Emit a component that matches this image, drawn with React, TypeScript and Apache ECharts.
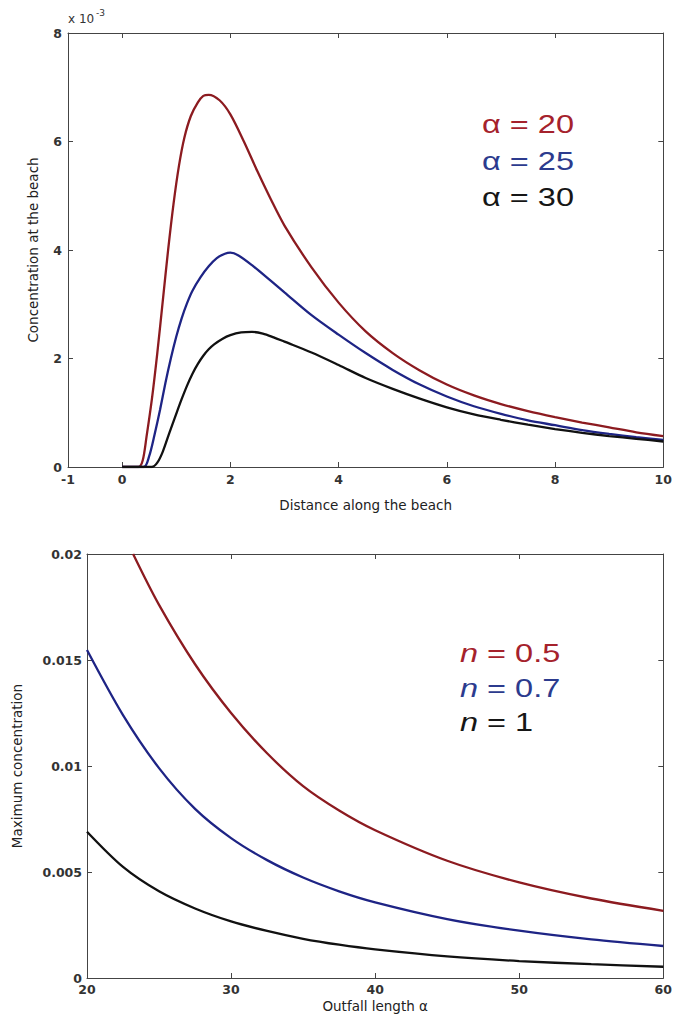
import React, { useEffect, useRef } from "react";
import * as echarts from "echarts";

// Top panel: concentration at the beach (x 10^-3) vs distance along the beach
const redTopX = [0, 0.3, 0.38, 0.45, 0.55, 0.65, 0.75, 0.85, 0.95, 1.05, 1.15, 1.27, 1.4, 1.5, 1.6, 1.8, 2.0, 2.25, 2.5, 2.75, 3.0, 3.5, 4.0, 4.5, 5.0, 5.5, 6.0, 6.5, 7.0, 7.5, 8.0, 8.5, 9.0, 9.5, 10];
const redTopY = [0, 0, 0.12, 0.55, 1.25, 2.1, 3.05, 4.0, 4.85, 5.55, 6.07, 6.47, 6.72, 6.84, 6.86, 6.76, 6.5, 6.0, 5.45, 4.93, 4.45, 3.68, 3.03, 2.5, 2.1, 1.78, 1.52, 1.32, 1.16, 1.03, 0.92, 0.82, 0.73, 0.64, 0.57];
const blueTopX = [0, 0.4, 0.5, 0.6, 0.7, 0.8, 0.9, 1.0, 1.1, 1.2, 1.3, 1.45, 1.6, 1.75, 1.9, 2.0, 2.15, 2.4, 2.75, 3.0, 3.5, 4.0, 4.5, 5.0, 5.5, 6.0, 6.5, 7.0, 7.5, 8.0, 8.5, 9.0, 9.5, 10];
const blueTopY = [0, 0, 0.2, 0.6, 1.05, 1.55, 2.0, 2.4, 2.74, 3.02, 3.25, 3.5, 3.7, 3.85, 3.93, 3.95, 3.9, 3.72, 3.43, 3.22, 2.8, 2.44, 2.1, 1.79, 1.52, 1.3, 1.12, 0.98, 0.86, 0.77, 0.68, 0.61, 0.55, 0.5];
const blackTopX = [0, 0.55, 0.65, 0.75, 0.87, 1.0, 1.1, 1.2, 1.3, 1.4, 1.5, 1.6, 1.7, 1.85, 2.0, 2.2, 2.4, 2.6, 2.8, 3.0, 3.5, 4.0, 4.5, 5.0, 5.5, 6.0, 6.5, 7.0, 7.5, 8.0, 8.5, 9.0, 9.5, 10];
const blackTopY = [0, 0, 0.08, 0.28, 0.62, 0.98, 1.25, 1.5, 1.72, 1.9, 2.05, 2.17, 2.26, 2.36, 2.43, 2.48, 2.49, 2.46, 2.39, 2.31, 2.11, 1.88, 1.64, 1.44, 1.26, 1.1, 0.97, 0.87, 0.78, 0.7, 0.63, 0.57, 0.52, 0.47];
const topXLabels = [-1, 0, 2, 4, 6, 8, 10];
const topXTicks = [0, 2, 4, 6, 8];
const topLegend = ["\u03b1 = 20", "\u03b1 = 25", "\u03b1 = 30"];

// Bottom panel: maximum concentration vs outfall length
const redBotX = [23.2, 25, 27.5, 30, 32.5, 35, 37.5, 40, 45, 50, 55, 60];
const redBotY = [0.02, 0.0176, 0.0148, 0.0125, 0.0106, 0.00905, 0.0079, 0.00697, 0.00553, 0.00451, 0.00375, 0.00317];
const blueBotX = [20, 22.5, 25, 27.5, 30, 32.5, 35, 37.5, 40, 45, 50, 55, 60];
const blueBotY = [0.01547, 0.0124, 0.0099, 0.00798, 0.0066, 0.00556, 0.00474, 0.00409, 0.00357, 0.00278, 0.00223, 0.00182, 0.00151];
const blackBotX = [20, 22.5, 25, 27.5, 30, 32.5, 35, 37.5, 40, 45, 50, 55, 60];
const blackBotY = [0.0069, 0.00524, 0.00409, 0.00328, 0.00267, 0.00222, 0.00185, 0.00157, 0.00135, 0.00102, 0.0008, 0.00065, 0.00053];
const botLegendValues = ["0.5", "0.7", "1"];

const RED = "#8c1b20";
const BLUE = "#1e2485";
const BLACK = "#111111";
const RED_T = "#a5222c";
const BLUE_T = "#2c3b8e";
const BLACK_T = "#161616";
const AX = "#444444";
const FONT = "'Liberation Sans', Arial, sans-serif";
const TICKFONT = "'DejaVu Sans', sans-serif";

const zip = (xs: number[], ys: number[]) => xs.map((x, i) => [x, ys[i]]);

const axisCommon = {
  type: "value" as const,
  axisLine: { show: true, onZero: false, lineStyle: { color: AX, width: 1 } },
  splitLine: { show: false },
};

export default function App() {
  const ref = useRef<HTMLDivElement>(null);
  useEffect(() => {
    if (!ref.current) return;
    const chart = echarts.init(ref.current, undefined, { renderer: "svg" });
    const lbl = { fontSize: 12.5, fontWeight: "bold" as const, color: "#333", fontFamily: TICKFONT };
    const nameStyle = { fontSize: 13.5, color: "#222", fontFamily: TICKFONT };
    const line = (name: string, data: number[][], color: string, xi: number, yi: number) => ({
      type: "line",
      name,
      data,
      xAxisIndex: xi,
      yAxisIndex: yi,
      showSymbol: false,
      symbol: "none",
      smooth: 0.3,
      clip: true,
      lineStyle: { color, width: 2.3 },
      itemStyle: { color },
    });
    const legendText = (text: string, y: number, fill: string, rich?: any) => ({
      type: "text",
      x: rich ? 460 : 482,
      y,
      scaleX: 1.3,
      style: {
        text,
        fill,
        fontSize: 25,
        fontFamily: FONT,
        textAlign: "left",
        textVerticalAlign: "middle",
        rich,
      },
    });
    const italic = (fill: string) => ({
      it: { fontStyle: "italic", fontSize: 25, fontFamily: FONT, fill },
    });
    const tickStyle = { show: true, inside: true, length: 5, lineStyle: { color: AX } };
    chart.setOption({
      animation: false,
      backgroundColor: "#ffffff",
      grid: [
        { left: 68, top: 33, width: 600, height: 434 },
        { left: 87, top: 554, width: 581, height: 424 },
      ],
      xAxis: [
        {
          ...axisCommon,
          gridIndex: 0,
          position: "bottom",
          min: -1,
          max: 10,
          axisTick: { ...tickStyle, customValues: topXTicks },
          axisLabel: { ...lbl, margin: 6, customValues: topXLabels },
          name: "Distance along the beach",
          nameLocation: "middle",
          nameGap: 31,
          nameTextStyle: nameStyle,
        },
        {
          ...axisCommon,
          gridIndex: 0,
          position: "top",
          min: -1,
          max: 10,
          axisTick: { ...tickStyle, customValues: topXTicks },
          axisLabel: { show: false },
        },
        {
          ...axisCommon,
          gridIndex: 1,
          position: "bottom",
          min: 20,
          max: 60,
          interval: 10,
          axisTick: tickStyle,
          axisLabel: { ...lbl, margin: 5 },
          name: "Outfall length \u03b1",
          nameLocation: "middle",
          nameGap: 21,
          nameTextStyle: nameStyle,
        },
        {
          ...axisCommon,
          gridIndex: 1,
          position: "top",
          min: 20,
          max: 60,
          interval: 10,
          axisTick: tickStyle,
          axisLabel: { show: false },
        },
      ],
      yAxis: [
        {
          ...axisCommon,
          gridIndex: 0,
          position: "left",
          min: 0,
          max: 8,
          interval: 2,
          axisTick: tickStyle,
          axisLabel: { ...lbl, margin: 6 },
          name: "Concentration at the beach",
          nameLocation: "middle",
          nameGap: 28,
          nameTextStyle: nameStyle,
        },
        {
          ...axisCommon,
          gridIndex: 0,
          position: "right",
          min: 0,
          max: 8,
          interval: 2,
          axisTick: tickStyle,
          axisLabel: { show: false },
        },
        {
          ...axisCommon,
          gridIndex: 1,
          position: "left",
          min: 0,
          max: 0.02,
          interval: 0.005,
          axisTick: tickStyle,
          axisLabel: { ...lbl, margin: 5 },
          name: "Maximum concentration",
          nameLocation: "middle",
          nameGap: 63,
          nameTextStyle: nameStyle,
        },
        {
          ...axisCommon,
          gridIndex: 1,
          position: "right",
          min: 0,
          max: 0.02,
          interval: 0.005,
          axisTick: tickStyle,
          axisLabel: { show: false },
        },
      ],
      series: [
        line("a20", zip(redTopX, redTopY), RED, 0, 0),
        line("a25", zip(blueTopX, blueTopY), BLUE, 0, 0),
        line("a30", zip(blackTopX, blackTopY), BLACK, 0, 0),
        line("n05", zip(redBotX, redBotY), RED, 2, 2),
        line("n07", zip(blueBotX, blueBotY), BLUE, 2, 2),
        line("n1", zip(blackBotX, blackBotY), BLACK, 2, 2),
      ],
      graphic: [
        {
          type: "text",
          x: 68,
          y: 19,
          style: { text: "x 10", fill: "#333", fontSize: 12, fontFamily: TICKFONT, textVerticalAlign: "middle" },
        },
        {
          type: "text",
          x: 96,
          y: 13,
          style: { text: "-3", fill: "#333", fontSize: 9, fontFamily: TICKFONT, textVerticalAlign: "middle" },
        },
        legendText(topLegend[0], 124, RED_T),
        legendText(topLegend[1], 161, BLUE_T),
        legendText(topLegend[2], 197, BLACK_T),
        legendText("{it|n} = " + botLegendValues[0], 653, RED_T, italic(RED_T)),
        legendText("{it|n} = " + botLegendValues[1], 688, BLUE_T, italic(BLUE_T)),
        legendText("{it|n} = " + botLegendValues[2], 722, BLACK_T, italic(BLACK_T)),
      ],
    });
    return () => chart.dispose();
  }, []);
  return (
    <div
      ref={ref}
      style={{ position: "absolute", left: 0, top: 0, width: 675, height: 1025, background: "#fff" }}
    />
  );
}
